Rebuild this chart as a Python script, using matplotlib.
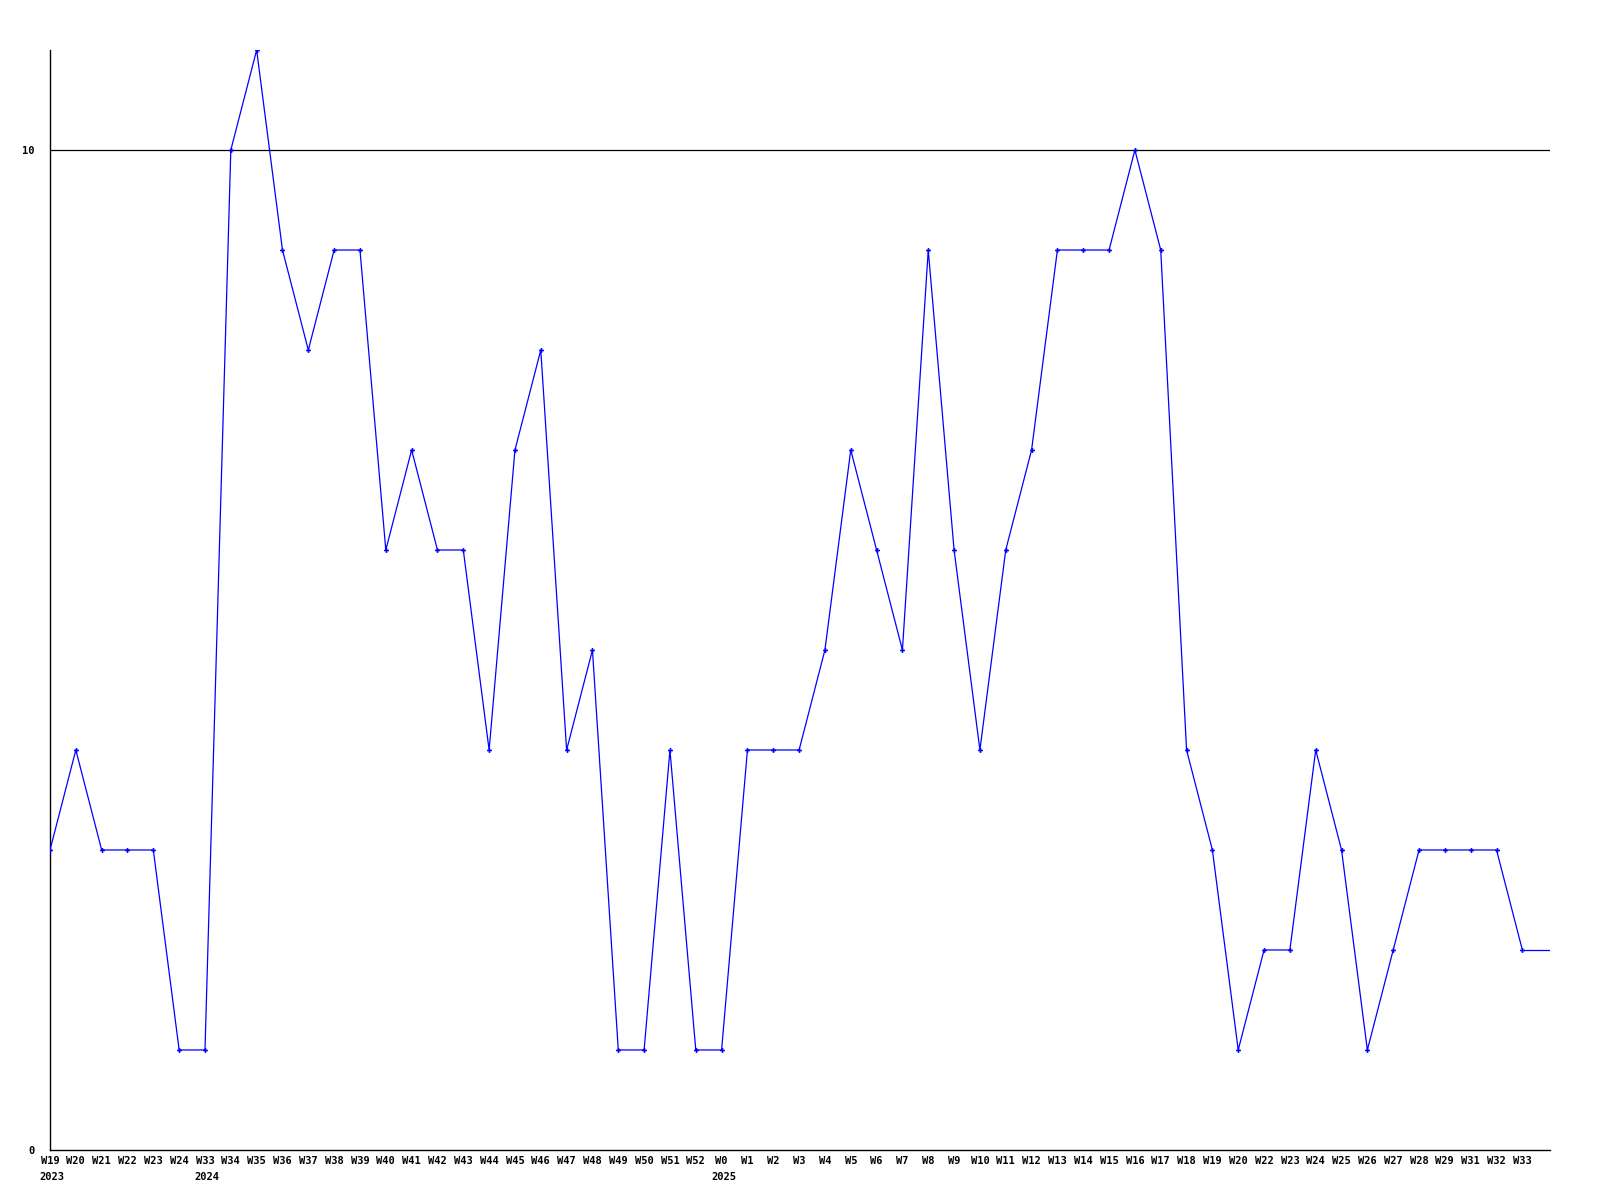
import matplotlib
matplotlib.use("Agg")
import matplotlib.pyplot as plt
from matplotlib.transforms import blended_transform_factory, ScaledTranslation

weeks = ["W19", "W20", "W21", "W22", "W23", "W24",
         "W33", "W34", "W35", "W36", "W37", "W38", "W39", "W40", "W41", "W42", "W43", "W44", "W45",
         "W46", "W47", "W48", "W49", "W50", "W51", "W52",
         "W0", "W1", "W2", "W3", "W4", "W5", "W6", "W7", "W8", "W9", "W10", "W11", "W12", "W13",
         "W14", "W15", "W16", "W17", "W18", "W19", "W20", "W22", "W23", "W24", "W25", "W26", "W27",
         "W28", "W29", "W31", "W32", "W33"]
values = [3, 4, 3, 3, 3, 1,
          1, 10, 11, 9, 8, 9, 9, 6, 7, 6, 6, 4, 7,
          8, 4, 5, 1, 1, 4, 1,
          1, 4, 4, 4, 5, 7, 6, 5, 9, 6, 4, 6, 7, 9,
          9, 9, 10, 9, 4, 3, 1, 2, 2, 4, 3, 1, 2,
          3, 3, 3, 3, 2]
year_labels = {0: "2023", 6: "2024", 26: "2025"}
y_ticks = [0, 10]

fig = plt.figure(figsize=(16, 12), dpi=100)
ax = fig.add_axes([0.03125, 0.0417, 0.9375, 0.9166])

x = list(range(len(values)))
ax.plot(x, values, color="#0000ff", linewidth=0.9, marker="P", markersize=3.5,
        markeredgewidth=0, zorder=3)
xmax = 58.07
ax.plot([x[-1], xmax], [values[-1], values[-1]], color="#0000ff", linewidth=0.9, zorder=3)

ax.set_xlim(0, xmax)
ax.set_ylim(0, 11)

for s in ["top", "right"]:
    ax.spines[s].set_visible(False)
for s in ["left", "bottom"]:
    ax.spines[s].set_color("black")
    ax.spines[s].set_linewidth(1.0)

ax.axhline(10, color="black", linewidth=0.9, zorder=1)

font = dict(family="DejaVu Sans Mono", fontweight="bold", fontsize=7.5)
ax.set_yticks(y_ticks)
ax.set_yticklabels([str(v) for v in y_ticks], **font)
ax.tick_params(axis="y", length=0, pad=11)
ax.set_xticks(x)
ax.set_xticklabels(weeks, **font)
ax.tick_params(axis="x", length=0, pad=4)

trans = blended_transform_factory(ax.transData, ax.transAxes)
for i, yr in year_labels.items():
    t = trans + ScaledTranslation(-10.5 / 100, 0, fig.dpi_scale_trans)
    ax.text(i, -0.02, yr, transform=t, ha="left", va="top", **font)

fig.savefig("out.png", dpi=100)
